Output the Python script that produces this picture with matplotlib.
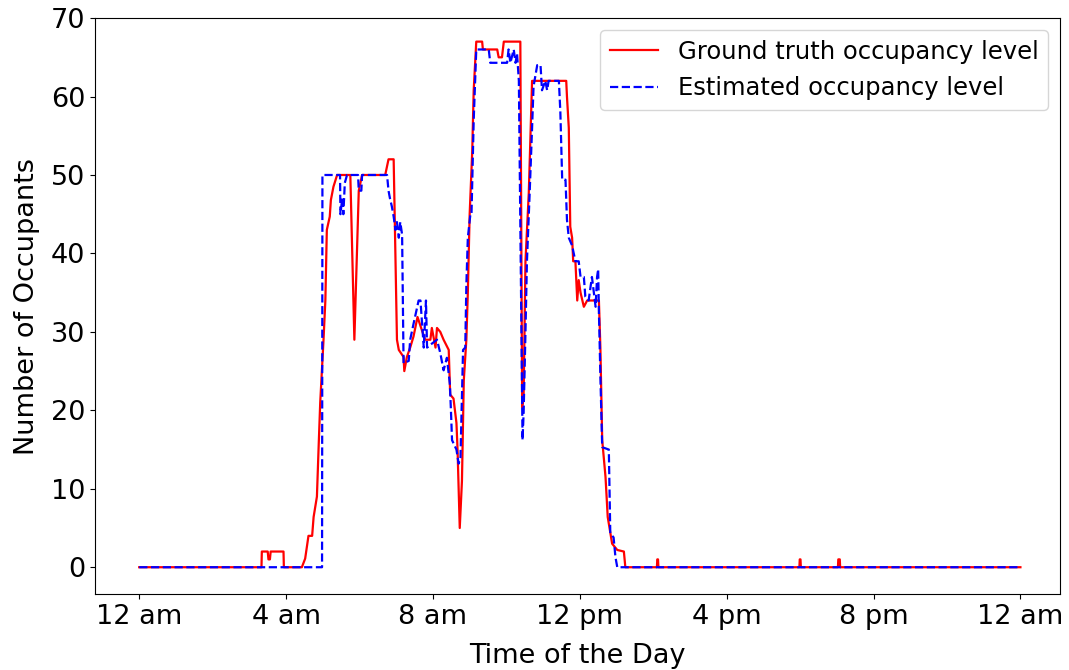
import numpy as np
import matplotlib
matplotlib.use("Agg")
import matplotlib.pyplot as plt

# Ground truth occupancy (hour of day, occupants)
gt_hours = [0, 3.33, 3.34, 3.5, 3.52, 3.56, 3.58, 3.93, 3.94, 4.43, 4.52, 4.61, 4.71, 4.75,
            4.84, 4.89, 4.93, 5.02, 5.07, 5.11, 5.19, 5.22, 5.29, 5.39, 5.75, 5.86, 5.98,
            6.07, 6.70, 6.79, 6.93, 7.02, 7.07, 7.2, 7.22, 7.29, 7.38, 7.47, 7.58, 7.7,
            7.79, 7.93, 7.97, 8.07, 8.11, 8.2, 8.29, 8.43, 8.47, 8.56, 8.64, 8.67, 8.73,
            8.79, 8.84, 8.91, 8.95, 9.0, 9.07, 9.11, 9.18, 9.34, 9.36, 9.75, 9.79, 9.88,
            9.93, 10.38, 10.43, 10.47, 10.52, 10.61, 10.7, 11.63, 11.65, 11.7, 11.74,
            11.79, 11.82, 11.88, 11.93, 11.97, 12.02, 12.11, 12.2, 12.52, 12.56, 12.61,
            12.7, 12.76, 12.88, 13.02, 13.2, 13.24, 14.1, 14.11, 14.13, 14.14, 17.98,
            17.99, 18.01, 18.02, 19.03, 19.04, 19.08, 19.09, 24]
gt_level = [0, 0, 2, 2, 1, 1, 2, 2, 0, 0, 1.1, 4, 4, 6.4,
            9, 15.8, 21, 29, 34, 43, 44.7, 46.8, 48.5, 50, 50, 29, 48,
            50, 50, 52, 52, 29, 27.7, 26.8, 25, 26.8, 28, 29.4, 31.9, 30.2,
            29, 29, 30.5, 28, 30.5, 30, 29, 27.7, 22, 21.5, 18.4, 15, 5,
            11, 23.8, 29, 35, 45, 53, 60.8, 67, 67, 66, 66, 65, 65,
            67, 67, 20.4, 22, 39, 47.7, 62, 62, 60, 56, 43.4,
            42, 39, 39, 34, 36.6, 35, 33.2, 34, 34, 28, 16.2,
            11.5, 6.4, 3, 2.2, 2, 0, 0, 1, 1, 0, 0,
            1, 1, 0, 0, 1, 1, 0, 0]

# Estimated occupancy (hour of day, occupants)
est_hours = [0, 4.98, 4.99, 5.47, 5.48, 5.53, 5.56, 5.6, 5.66, 5.96, 5.98, 6.05, 6.07,
             6.75, 6.79, 6.83, 6.88, 6.93, 6.98, 7.02, 7.07, 7.11, 7.16, 7.2, 7.34,
             7.38, 7.47, 7.61, 7.66, 7.75, 7.81, 7.84, 7.97, 8.11, 8.2, 8.29, 8.38, 8.46,
             8.49, 8.52, 8.64, 8.7, 8.75, 8.82, 8.88, 8.91, 8.95, 9.02, 9.05, 9.11, 9.18,
             9.52, 9.56, 10.02, 10.06, 10.11, 10.2, 10.25, 10.29, 10.34, 10.44, 10.47,
             10.52, 10.56, 10.63, 10.7, 10.74, 10.84, 10.93, 10.97, 11.06, 11.11, 11.15,
             11.43, 11.47, 11.52, 11.61, 11.65, 11.7, 11.79, 11.88, 11.97, 12.02, 12.11,
             12.15, 12.24, 12.33, 12.43, 12.47, 12.5, 12.52, 12.53, 12.56, 12.61, 12.79,
             12.83, 12.92, 12.97, 13.02, 24]
est_level = [0, 0, 50, 50, 45, 47, 45, 49, 50, 50, 48, 48, 50,
             50, 48, 47, 46, 44.7, 43, 44, 42, 44, 42.4, 26, 26.3,
             29, 31, 34, 34, 28, 34, 28, 28.5, 29, 27.3, 25.1, 26.7, 23.4,
             20, 16.2, 15, 13.2, 14, 27.7, 28, 36, 42, 45, 45, 57, 66,
             66, 64.3, 64.3, 66, 64.3, 66, 64.3, 65.5, 62, 16.2, 19.7,
             30, 39, 47.2, 56, 61.3, 64, 64, 60.8, 62, 60.8, 62,
             62, 58, 49.4, 49.4, 44.3, 42, 41, 39, 39, 37, 37,
             34.5, 34, 37, 33.2, 37, 38, 32.4, 30.7, 24.3, 15.3, 15,
             4.3, 3.8, 1.3, 0, 0]

tick_hours = [0, 4, 8, 12, 16, 20, 24]
tick_labels = ["12 am", "4 am", "8 am", "12 pm", "4 pm", "8 pm", "12 am"]

fig = plt.figure(figsize=(10.69, 6.70), dpi=100)
ax = fig.add_axes([0.089, 0.113, 0.903, 0.86])

ax.plot(gt_hours, gt_level, color='red', linewidth=1.6, label="Ground truth occupancy level")
ax.plot(est_hours, est_level, color='blue', linestyle='--', linewidth=1.6,
        label="Estimated occupancy level")

ax.set_xticks(tick_hours)
ax.set_xticklabels(tick_labels)
ax.set_xlim(-1.2, 25.09)
ax.set_ylim(-3.45, 70)
ax.set_yticks(np.arange(0, 71, 10))
ax.tick_params(labelsize=19.5)
ax.set_xlabel("Time of the Day", fontsize=19.5, labelpad=9)
ax.set_ylabel("Number of Occupants", fontsize=19.5, labelpad=8)
ax.legend(loc='upper right', fontsize=17.5)

plt.savefig("out.png", dpi=100)
